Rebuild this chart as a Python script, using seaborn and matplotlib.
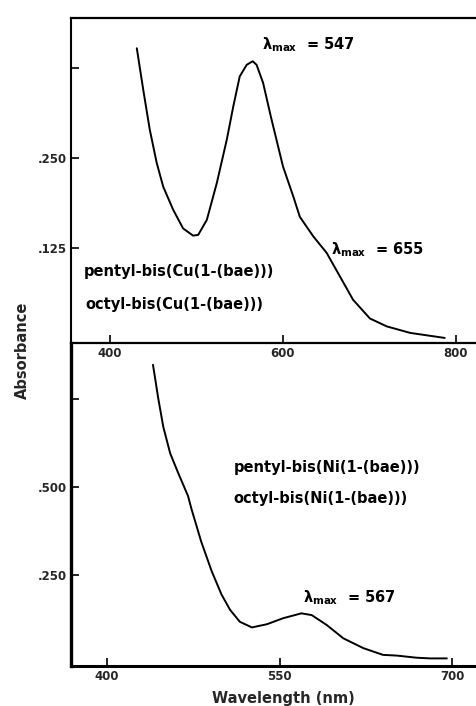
import matplotlib
matplotlib.use("Agg")
import matplotlib.pyplot as plt
import pandas as pd
import seaborn as sns

# ---- data ----
cu_wavelength = [431, 438.5, 446, 454, 461.5, 473, 484.5, 496, 502, 512, 523.5,
                 535, 542.5, 550, 558, 565, 569.5, 577, 586, 600, 612, 619.5,
                 635, 650.5, 666, 681, 700.5, 720, 747, 787]
cu_absorbance = [0.402, 0.344, 0.289, 0.243, 0.210, 0.178, 0.152, 0.142, 0.143,
                 0.164, 0.215, 0.275, 0.321, 0.363, 0.379, 0.384, 0.379, 0.354,
                 0.307, 0.238, 0.196, 0.168, 0.141, 0.118, 0.085, 0.053, 0.027,
                 0.016, 0.007, 0.000]

ni_wavelength = [440, 444.5, 449, 455, 462, 470.5, 473.5, 482, 491, 499.5, 507,
                 515.5, 526, 539, 553, 569, 578, 591, 605.5, 623, 640, 652, 669,
                 681, 695.5]
ni_absorbance = [0.847, 0.753, 0.670, 0.595, 0.539, 0.474, 0.437, 0.344, 0.261,
                 0.195, 0.151, 0.117, 0.101, 0.110, 0.127, 0.141, 0.136, 0.108,
                 0.070, 0.042, 0.023, 0.021, 0.015, 0.013, 0.013]

cu_xticks = [400, 600, 800]
cu_yticks = [0.125, 0.250, 0.375]
cu_yticklabels = [".125", ".250", ""]
ni_xticks = [400, 550, 700]
ni_yticks = [0.250, 0.500, 0.750]
ni_yticklabels = [".250", ".500", ""]

cu_labels = ["pentyl-bis(Cu(1-(bae)))", "octyl-bis(Cu(1-(bae)))"]
ni_labels = ["pentyl-bis(Ni(1-(bae)))", "octyl-bis(Ni(1-(bae)))"]
cu_peaks = ["547", "655"]
ni_peaks = ["567"]

sns.set_style("ticks")
plt.rcParams["font.family"] = ["DejaVu Sans"]
plt.rcParams["font.weight"] = "bold"
plt.rcParams["mathtext.default"] = "bf"

fig = plt.figure(figsize=(4.77, 7.06), dpi=100)
fig.patch.set_facecolor("white")

ax_ni = fig.add_axes([0.1488, 0.0567, 0.8512, 0.4575])
ax_cu = fig.add_axes([0.1488, 0.5142, 0.8512, 0.4603])
ax_cu.set_zorder(3)
ax_ni.set_zorder(2)
for ax in (ax_cu, ax_ni):
    ax.patch.set_visible(False)

cu_df = pd.DataFrame({"wl": cu_wavelength, "A": cu_absorbance})
ni_df = pd.DataFrame({"wl": ni_wavelength, "A": ni_absorbance})

sns.lineplot(data=cu_df, x="wl", y="A", ax=ax_cu, color="black", linewidth=1.4,
             sort=False)
sns.lineplot(data=ni_df, x="wl", y="A", ax=ax_ni, color="black", linewidth=1.4,
             sort=False)

ax_cu.set_xlim(354.9, 824.3)
ax_cu.set_ylim(-0.007, 0.444)
ax_ni.set_xlim(368.7, 721.7)
ax_ni.set_ylim(-0.0085, 0.909)

ax_cu.set_xticks(cu_xticks)
ax_cu.set_xticklabels([str(v) for v in cu_xticks])
ax_cu.set_yticks(cu_yticks)
ax_cu.set_yticklabels(cu_yticklabels)
ax_ni.set_xticks(ni_xticks)
ax_ni.set_xticklabels([str(v) for v in ni_xticks])
ax_ni.set_yticks(ni_yticks)
ax_ni.set_yticklabels(ni_yticklabels)

for ax in (ax_cu, ax_ni):
    ax.set_xlabel("")
    ax.set_ylabel("")
    ax.tick_params(direction="in", length=6, width=1.2, color="black",
                   labelsize=8.5, pad=3)
    for lab in ax.get_xticklabels() + ax.get_yticklabels():
        lab.set_fontweight("bold")
    ax.spines["right"].set_visible(False)
    ax.spines["left"].set_color("black")
    ax.spines["bottom"].set_color("black")

ax_cu.spines["top"].set_visible(True)
ax_cu.spines["top"].set_color("black")
ax_cu.spines["top"].set_linewidth(1.6)
ax_cu.spines["left"].set_linewidth(1.5)
ax_cu.spines["bottom"].set_linewidth(1.6)
ax_ni.spines["top"].set_visible(False)
ax_ni.spines["left"].set_linewidth(2.4)
ax_ni.spines["bottom"].set_linewidth(2.2)

lab_kw = dict(fontsize=10.5, fontweight="bold", color="black", va="center",
              ha="left")

# Cu panel annotations
ax_cu.text(576, 0.407, r"$\lambda_{max}$  = " + cu_peaks[0], **lab_kw)
ax_cu.text(655, 0.122, r"$\lambda_{max}$  = " + cu_peaks[1], **lab_kw)
ax_cu.text(370, 0.092, cu_labels[0], **lab_kw)
ax_cu.text(371, 0.046, cu_labels[1], **lab_kw)

# Ni panel annotations
ax_ni.text(510, 0.554, ni_labels[0], **lab_kw)
ax_ni.text(510, 0.466, ni_labels[1], **lab_kw)
ax_ni.text(570, 0.185, r"$\lambda_{max}$  = " + ni_peaks[0], **lab_kw)

fig.text(283 / 477, 1 - 698 / 706, "Wavelength (nm)", ha="center", va="center",
         fontsize=10.5, fontweight="bold")
fig.text(22 / 477, 1 - 350 / 706, "Absorbance", ha="center", va="center",
         rotation=90, fontsize=10.5, fontweight="bold")

fig.savefig("out.png", dpi=100, facecolor="white")
